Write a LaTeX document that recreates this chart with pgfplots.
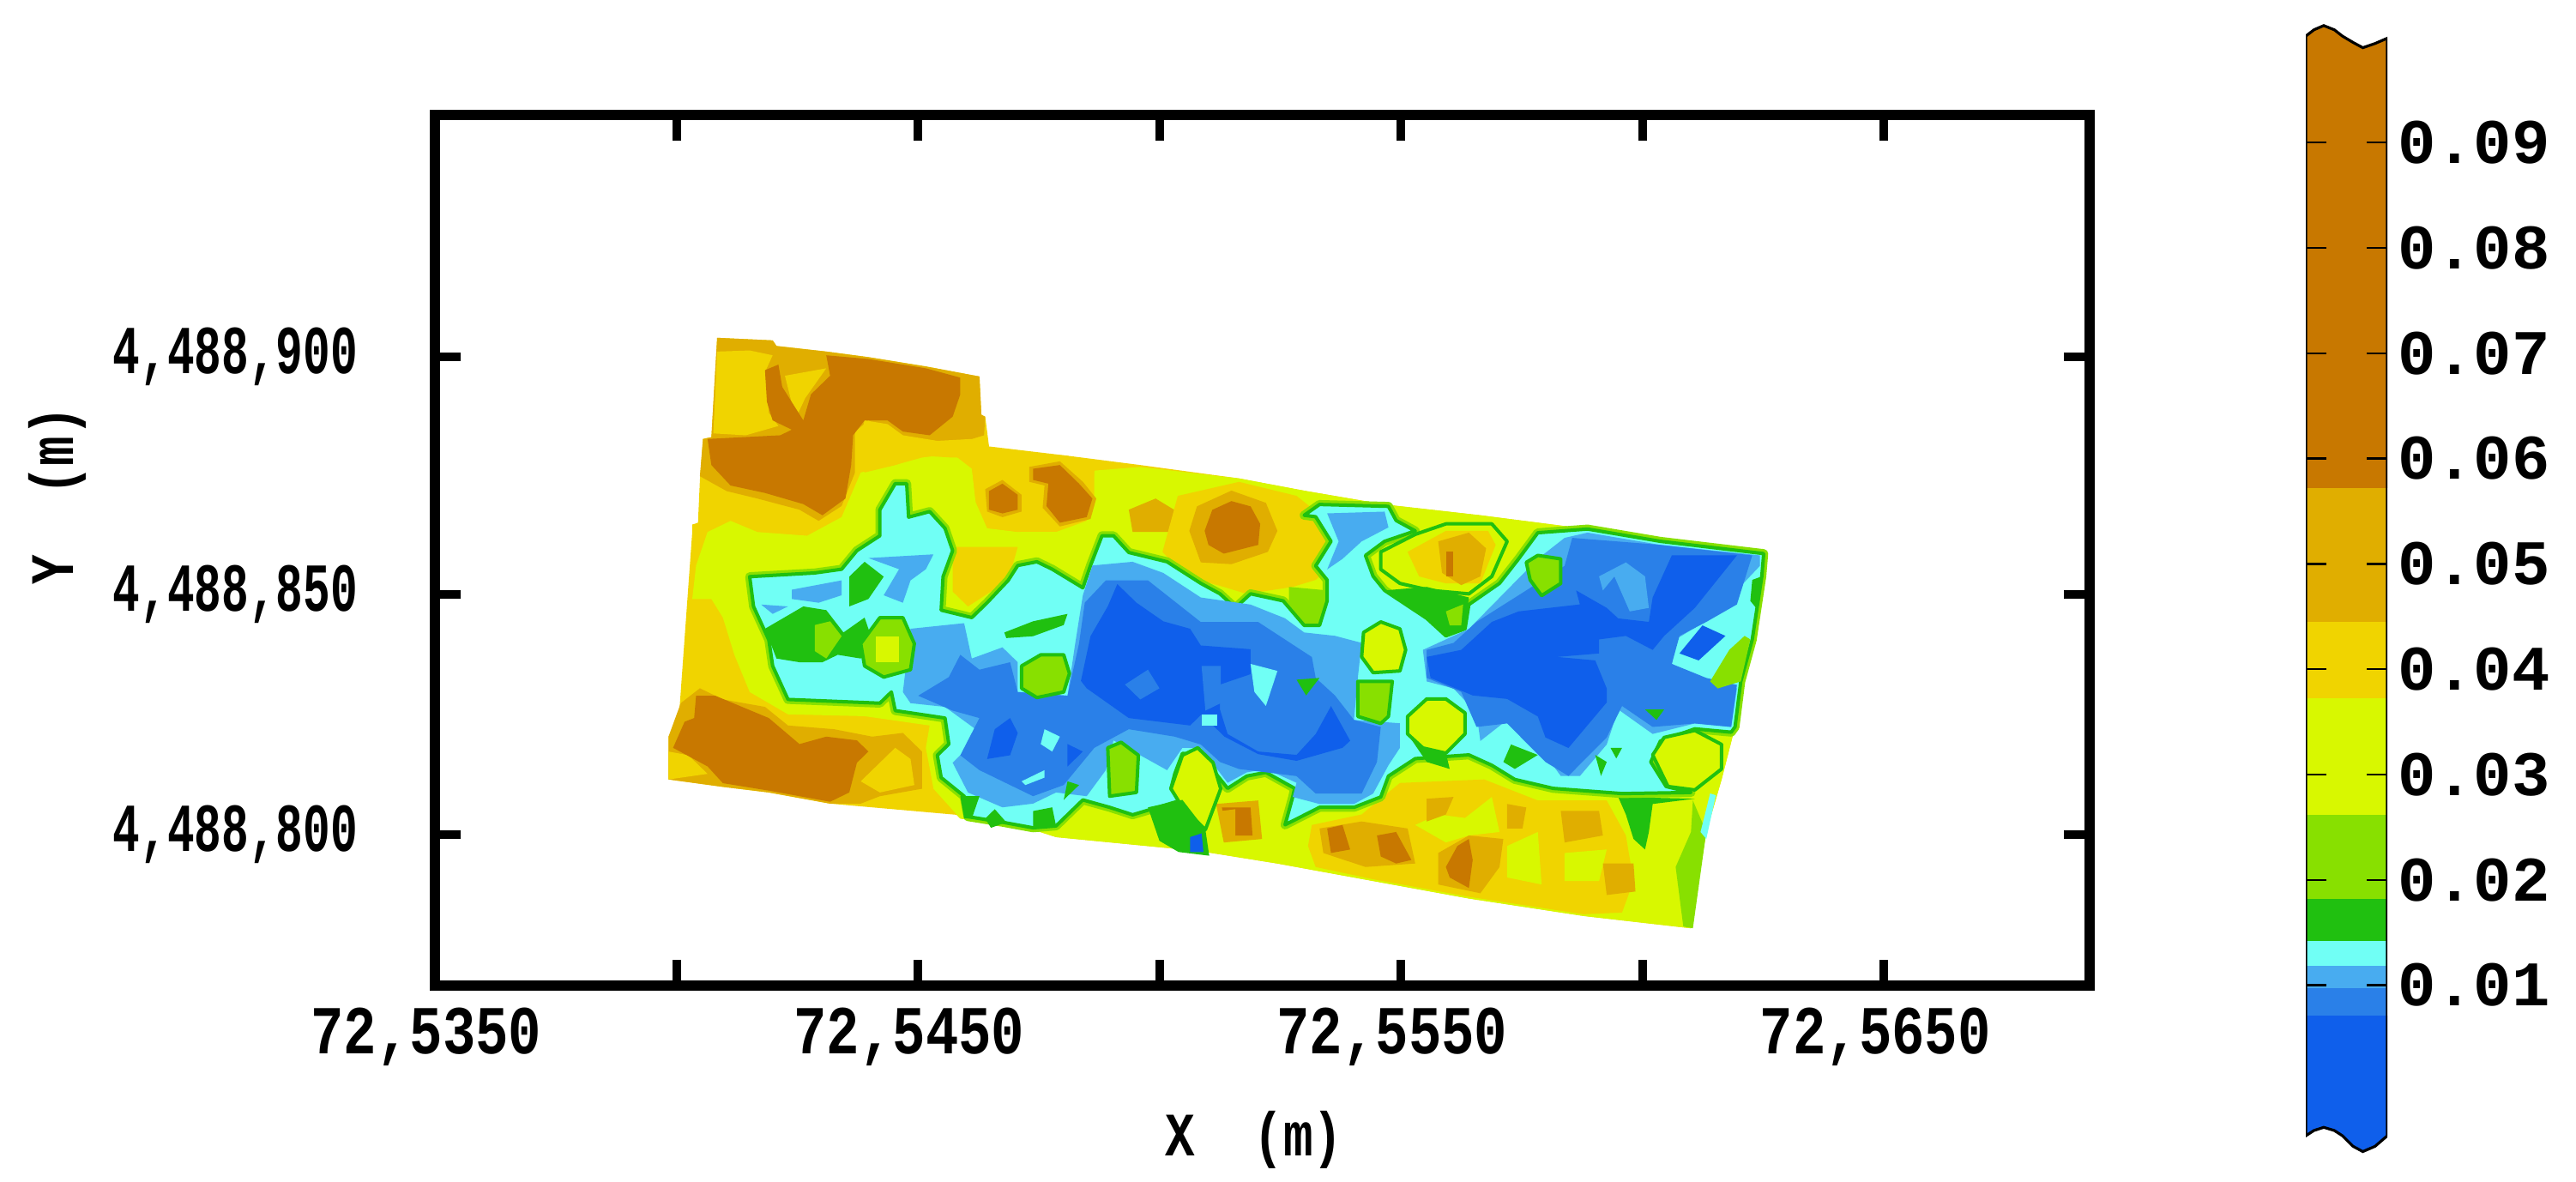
\documentclass[border=0pt]{standalone}
\usepackage{fontspec}
\setmonofont{Liberation Mono}
\usepackage{pgfplots}
\pgfplotsset{compat=1.18}
\definecolor{c0}{RGB}{15,95,235}
\definecolor{c1}{RGB}{42,128,232}
\definecolor{c2}{RGB}{72,172,240}
\definecolor{c3}{RGB}{112,255,245}
\definecolor{c4}{RGB}{32,192,16}
\definecolor{c5}{RGB}{136,224,0}
\definecolor{c6}{RGB}{216,248,0}
\definecolor{c7}{RGB}{240,212,0}
\definecolor{c8}{RGB}{224,174,0}
\definecolor{c9}{RGB}{200,120,0}
\newcommand\sx[1]{\scalebox{.8}[1]{#1}}
\newcommand\sy[1]{\scalebox{.66}[1]{#1}}
\pgfplotsset{
  p0/.style={draw=none,fill=c0,mark=none},
  p1/.style={draw=none,fill=c1,mark=none},
  p2/.style={draw=none,fill=c2,mark=none},
  p3/.style={draw=none,fill=c3,mark=none},
  p4/.style={draw=none,fill=c4,mark=none},
  p5/.style={draw=none,fill=c5,mark=none},
  p6/.style={draw=none,fill=c6,mark=none},
  p7/.style={draw=none,fill=c7,mark=none},
  p8/.style={draw=none,fill=c8,mark=none},
  p9/.style={draw=none,fill=c9,mark=none},
  ring/.style={draw=c4,line width=1pt,line join=round,mark=none},
  % second set of traced points, shifted onto the first
  zb/.style={x filter/.expression={x+1478},y filter/.expression={277+0.941*y}},
}
\begin{document}
\begin{tikzpicture}
\path[use as bounding box] (0,0) rectangle (750.75pt,344.5pt);
\begin{axis}[
  at={(126.75pt,57.25pt)}, anchor=south west,
  scale only axis, width=482.25pt, height=253.75pt,
  y dir=reverse,
  xmin=-522, xmax=3799, ymin=-521, ymax=1819,
  axis on top,
  axis line style={line width=3pt},
  tick align=inside, major tick length=7.5pt,
  tick style={black,line width=2.5pt},
  xtick={-522,109,739,1370,2000,2631,3262},
  xticklabels={{\sx{72,5350}},{},{\sx{72,5450}},{},{\sx{72,5550}},{},{\sx{72,5650}}},
  ytick={128,768,1414},
  yticklabels={{\sy{4,488,900}},{\sy{4,488,850}},{\sy{4,488,800}}},
  tick label style={font=\fontsize{20}{20}\selectfont\bfseries\ttfamily},
  xticklabel style={yshift=-3pt,xshift=-2.5pt},
  yticklabel style={xshift=-19pt},
  xlabel={\sx{X\ \ (m)}}, ylabel={\sx{Y\ \ (m)}},
  every axis x label/.style={at={(axis description cs:0.495,0)},anchor=center,yshift=-45pt,font=\fontsize{18}{18}\selectfont\bfseries\ttfamily},
  every axis y label/.style={at={(axis description cs:-0.228,0.563)},anchor=center,rotate=90,font=\fontsize{18}{18}\selectfont\bfseries\ttfamily},
]
% field outline
\addplot[p7] coordinates {(215,78)(360,85)(370,100)(500,115)(610,130)(760,155)(900,182)(905,285)(915,290)(925,370)(1130,395)(1320,420)(1578,456)(1748,489)(1958,526)(2208,555)(2488,592)(2678,625)(2948,658)(2943,719)(2918,889)(2888,1002)(2873,1124)(2838,1265)(2798,1406)(2758,1665)(2478,1632)(2178,1585)(1928,1538)(1678,1491)(1478,1458)(1100,1420)(1040,1400)(850,1370)(840,1360)(510,1330)(350,1300)(230,1285)(88,1265)(88,1150)(115,1100)(150,600)(150,580)(165,575)(170,460)(178,350)(200,345)} -- cycle;
% lime
\addplot[p6] coordinates {(160,690)(190,600)(250,570)(320,600)(450,610)(540,560)(590,440)(680,420)(750,400)(830,390)(880,430)(890,520)(920,590)(1000,600)(1100,600)(1180,570)(1200,500)(1200,435)(1320,425)(1578,456)(1748,489)(1958,526)(2208,555)(2488,592)(2948,658)(2943,719)(2918,889)(2888,1002)(2873,1124)(2838,1265)(2798,1406)(2758,1665)(2478,1632)(2178,1585)(1928,1538)(1678,1491)(1478,1458)(1100,1420)(1040,1400)(850,1370)(780,1290)(760,1180)(770,1120)(600,1095)(400,1090)(300,1030)(260,930)(230,830)(200,780)(150,780)} -- cycle;
% top left, gold and brown
\addplot[p8] coordinates {(215,78)(360,85)(370,100)(500,115)(610,130)(760,155)(900,182)(905,285)(915,290)(912,340)(880,350)(770,360)(680,340)(610,300)(575,330)(575,440)(540,530)(480,570)(430,540)(320,510)(240,490)(170,450)(178,350)(200,345)} -- cycle;
\addplot[p7] coordinates {(215,115)(300,112)(360,125)(340,170)(350,280)(375,315)(290,340)(205,335)} -- cycle;
\addplot[p7] coordinates {(392,180)(500,160)(445,240)(420,295)} -- cycle;
\addplot[p7] coordinates {(600,300)(660,310)(700,340)(790,355)(880,350)(885,400)(830,400)(750,395)(680,420)(600,440)(580,380)} -- cycle;
\addplot[p9] coordinates {(500,125)(610,135)(760,160)(850,185)(850,230)(830,290)(770,340)(700,330)(660,300)(600,300)(570,340)(565,420)(550,510)(490,555)(440,525)(340,495)(250,475)(200,420)(190,350)(380,340)(410,325)(360,300)(345,250)(340,165)(375,150)(385,210)(440,300)(460,230)(510,180)} -- cycle;
% top strip
\addplot[p7] coordinates {(890,375)(1130,395)(1200,430)(1190,560)(1120,590)(1000,600)(920,580)(890,510)(880,420)} -- cycle;
\addplot[p7] coordinates {(830,640)(950,640)(1000,640)(975,730)(900,780)(870,800)(830,760)} -- cycle;
\addplot[p8] coordinates {(1290,540)(1360,510)(1440,560)(1400,600)(1300,600)} -- cycle;
\addplot[p8] coordinates {(915,485)(960,460)(1010,500)(1010,545)(960,560)(920,545)} -- cycle;
\addplot[p8] coordinates {(1030,425)(1110,410)(1170,465)(1205,510)(1190,565)(1110,585)(1065,535)(1070,475)(1030,465)} -- cycle;
\addplot[p9] coordinates {(925,490)(960,470)(1000,500)(1000,540)(960,550)(925,540)} -- cycle;
\addplot[p9] coordinates {(1040,430)(1110,420)(1160,470)(1195,510)(1180,560)(1110,575)(1075,530)(1080,470)(1040,460)} -- cycle;
\addplot[p7,zb] coordinates {(-60,240)(100,200)(250,240)(330,310)(330,450)(300,480)(240,500)(120,520)(60,500)(-40,470)(-100,400)} -- cycle;
\addplot[p8,zb] coordinates {(-10,270)(80,225)(170,260)(200,340)(175,400)(80,435)(0,430)(-30,340)} -- cycle;
\addplot[p9,zb] coordinates {(10,340)(30,280)(80,255)(130,270)(155,320)(150,380)(60,405)(20,380)} -- cycle;
\addplot[p5,zb] coordinates {(230,500)(330,510)(320,600)(280,615)(230,580)} -- cycle;
% bottom left
\addplot[p8] coordinates {(88,1150)(120,1060)(170,1020)(230,1050)(340,1070)(400,1120)(520,1130)(620,1150)(700,1140)(750,1190)(750,1290)(640,1310)(590,1330)(510,1330)(350,1300)(230,1285)(88,1265)} -- cycle;
\addplot[p7] coordinates {(88,1190)(140,1200)(190,1250)(88,1265)} -- cycle;
\addplot[p7] coordinates {(590,1270)(680,1180)(720,1210)(730,1280)(640,1300)} -- cycle;
\addplot[p9] coordinates {(160,1040)(210,1040)(350,1100)(430,1170)(500,1150)(580,1160)(610,1190)(580,1220)(560,1300)(510,1325)(350,1295)(230,1275)(190,1230)(100,1180)(130,1110)(155,1100)} -- cycle;
% south band
\addplot[p7,zb] coordinates {(290,1180)(420,1150)(520,1060)(740,1050)(880,1110)(1060,1110)(1110,1210)(1130,1340)(1100,1430)(1000,1435)(700,1385)(450,1335)(300,1300)(280,1240)} -- cycle;
\addplot[p6,zb] coordinates {(800,1240)(880,1200)(890,1350)(800,1330)} -- cycle;
\addplot[p6,zb] coordinates {(560,1180)(620,1150)(690,1160)(760,1100)(780,1200)(700,1210)(640,1230)} -- cycle;
\addplot[p6,zb] coordinates {(950,1260)(1060,1250)(1040,1340)(950,1340)} -- cycle;
\addplot[p8,zb] coordinates {(310,1190)(420,1170)(540,1190)(560,1290)(430,1300)(320,1260)} -- cycle;
\addplot[p8,zb] coordinates {(620,1260)(700,1210)(790,1220)(780,1300)(730,1375)(620,1350)} -- cycle;
\addplot[p8,zb] coordinates {(940,1140)(1040,1140)(1050,1210)(950,1230)} -- cycle;
\addplot[p8,zb] coordinates {(590,1105)(660,1100)(640,1150)(590,1170)} -- cycle;
\addplot[p8,zb] coordinates {(800,1120)(850,1130)(840,1190)(800,1190)} -- cycle;
\addplot[p8,zb] coordinates {(1050,1290)(1130,1290)(1135,1370)(1060,1380)} -- cycle;
\addplot[p9,zb] coordinates {(330,1190)(370,1180)(390,1250)(340,1260)} -- cycle;
\addplot[p9,zb] coordinates {(460,1210)(510,1200)(550,1280)(510,1290)(470,1270)} -- cycle;
\addplot[p9,zb] coordinates {(670,1240)(700,1220)(710,1280)(700,1360)(650,1330)(640,1300)} -- cycle;
\addplot[p8,zb] coordinates {(40,1120)(150,1110)(160,1220)(60,1230)} -- cycle;
\addplot[p9,zb] coordinates {(55,1130)(130,1130)(135,1210)(70,1210)} -- cycle;
% lobe at the lower right
\addplot[p4,zb] coordinates {(1090,1100)(1290,1105)(1180,1120)(1170,1200)(1160,1250)(1130,1220)(1110,1150)} -- cycle;
\addplot[p5,zb] coordinates {(1285,1110)(1320,1200)(1285,1475)(1260,1470)(1240,1300)(1280,1200)} -- cycle;
\addplot[p3,zb] coordinates {(1330,1090)(1345,1095)(1320,1220)(1305,1200)} -- cycle;
% cyan mass with its green contour and its thin yellow green rim
\addplot[fill=c3,ring,preaction={draw=c5,line width=2.6pt}] coordinates {(300,720)(470,710)(540,700)(580,650)(640,610)(640,540)(680,470)(710,470)(715,560)(770,545)(810,590)(830,650)(805,720)(800,810)(880,830)(920,790)(975,730)(1000,690)(1050,680)(1090,700)(1170,750)(1190,690)(1220,610)(1250,610)(1290,655)(1390,680)(1478,738)(1528,766)(1568,804)(1608,766)(1693,785)(1748,851)(1788,851)(1808,785)(1808,729)(1778,691)(1818,625)(1778,559)(1748,555)(1788,526)(1968,531)(1988,569)(2038,597)(1958,625)(1908,663)(1928,719)(1958,757)(2068,832)(2118,879)(2168,860)(2178,795)(2258,738)(2308,672)(2358,602)(2488,592)(2678,625)(2948,658)(2943,719)(2918,889)(2888,1002)(2873,1124)(2863,1138)(2768,1129)(2678,1162)(2653,1218)(2693,1284)(2758,1300)(2578,1303)(2398,1289)(2298,1265)(2238,1227)(2178,1199)(2038,1209)(1968,1256)(1948,1312)(1878,1340)(1788,1340)(1698,1387)(1718,1312)(1723,1289)(1648,1246)(1598,1256)(1548,1289)(1478,1199)(1430,1195)(1410,1250)(1400,1290)(1430,1320)(1300,1360)(1240,1340)(1170,1320)(1100,1390)(1040,1395)(960,1380)(870,1365)(860,1310)(800,1260)(790,1200)(820,1170)(810,1100)(680,1080)(670,1030)(640,1060)(400,1050)(360,960)(350,890)(310,800)} -- cycle;
% sky blue
\addplot[p2] coordinates {(410,755)(540,730)(540,770)(480,790)(410,780)} -- cycle;
\addplot[p2] coordinates {(330,795)(400,800)(360,820)} -- cycle;
\addplot[p2] coordinates {(610,670)(780,660)(760,700)(720,730)(700,790)(650,770)(690,700)} -- cycle;
\addplot[p2] coordinates {(720,860)(860,845)(880,940)(960,910)(1000,950)(1000,1030)(1130,1040)(1150,900)(1170,770)(1195,690)(1300,680)(1380,710)(1478,776)(1608,795)(1698,832)(1748,870)(1828,879)(1898,898)(1888,992)(1878,1105)(1998,1114)(1998,1180)(1968,1227)(1928,1303)(1878,1331)(1788,1331)(1718,1312)(1728,1274)(1648,1237)(1598,1246)(1548,1274)(1478,1180)(1430,1180)(1390,1240)(1250,1160)(1230,1240)(1180,1310)(1100,1300)(1040,1330)(960,1340)(870,1300)(830,1220)(870,1180)(890,1130)(810,1070)(720,1060)(700,1030)} -- cycle;
\addplot[p2,zb] coordinates {(330,290)(480,285)(490,330)(420,370)(370,420)(330,450)(360,370)} -- cycle;
\addplot[p2,zb] coordinates {(700,620)(790,520)(880,420)(950,360)(1010,345)(1200,380)(1460,410)(1460,440)(1330,590)(1240,650)(1230,720)(1320,770)(1400,790)(1385,900)(1290,890)(1180,920)(1090,850)(1060,950)(990,1040)(940,1040)(880,950)(800,880)(730,940)(720,860)(660,790)(590,770)(580,680)} -- cycle;
% mid blue
\addplot[p1] coordinates {(740,1040)(820,990)(850,930)(900,970)(980,950)(1000,1030)(1130,1040)(1160,900)(1175,790)(1230,730)(1340,730)(1478,842)(1628,842)(1768,936)(1778,992)(1828,1039)(1878,1105)(1948,1124)(1938,1218)(1898,1303)(1778,1303)(1728,1256)(1578,1237)(1528,1218)(1478,1171)(1410,1150)(1290,1130)(1200,1180)(1120,1280)(1040,1310)(900,1240)(850,1200)(900,1100)(830,1080)} -- cycle;
\addplot[p1,zb] coordinates {(850,510)(950,440)(970,360)(1200,380)(1440,410)(1400,550)(1320,600)(1250,640)(1230,720)(1320,760)(1400,780)(1385,900)(1290,890)(1180,900)(1100,840)(1060,930)(960,1040)(900,1000)(800,890)(720,900)(680,800)(590,760)(590,680)(660,660)(720,600)} -- cycle;
% deep blue
\addplot[p0] coordinates {(1165,1000)(1190,880)(1235,800)(1260,740)(1310,790)(1380,840)(1450,860)(1478,905)(1608,915)(1608,982)(1528,1010)(1528,1077)(1548,1143)(1628,1190)(1728,1199)(1778,1143)(1818,1068)(1838,1105)(1868,1161)(1848,1180)(1728,1215)(1628,1197)(1540,1150)(1480,1090)(1450,1120)(1290,1100)(1180,1020)} -- cycle;
\addplot[p1] coordinates {(1280,1010)(1340,970)(1370,1020)(1320,1050)} -- cycle;
\addplot[p1] coordinates {(1480,960)(1530,960)(1530,1060)(1490,1080)} -- cycle;
\addplot[p0] coordinates {(920,1210)(940,1130)(980,1100)(1000,1140)(980,1200)} -- cycle;
\addplot[p0] coordinates {(1130,1170)(1170,1190)(1130,1230)} -- cycle;
\addplot[p0,zb] coordinates {(590,700)(680,680)(760,600)(830,570)(990,550)(980,510)(1060,560)(1090,590)(1170,600)(1180,530)(1230,410)(1400,410)(1290,560)(1210,640)(1180,680)(1110,640)(1040,650)(1040,690)(930,700)(1030,710)(1060,790)(1060,830)(960,960)(900,930)(880,870)(800,820)(710,810)(600,760)} -- cycle;
\addplot[p0,zb] coordinates {(1250,690)(1310,610)(1370,640)(1300,710)} -- cycle;
\addplot[p2,zb] coordinates {(1040,470)(1110,430)(1160,470)(1170,560)(1120,570)(1080,470)(1050,510)} -- cycle;
% cyan specks
\addplot[p3] coordinates {(1070,1130)(1110,1150)(1090,1190)(1060,1170)} -- cycle;
\addplot[p3] coordinates {(1010,1270)(1070,1240)(1070,1260)(1020,1280)} -- cycle;
\addplot[p3] coordinates {(1480,1090)(1520,1090)(1520,1120)(1480,1120)} -- cycle;
\addplot[p3,zb] coordinates {(130,720)(200,740)(170,840)(140,800)} -- cycle;
% green islands
\addplot[p4] coordinates {(340,860)(440,800)(500,810)(545,870)(600,830)(620,890)(590,940)(530,930)(490,950)(430,950)(370,940)} -- cycle;
\addplot[p5] coordinates {(470,850)(510,840)(540,880)(500,940)(470,920)} -- cycle;
\addplot[p4] coordinates {(560,720)(600,680)(650,720)(610,780)(560,800)} -- cycle;
\addplot[p4] coordinates {(965,870)(1040,840)(1130,820)(1120,850)(1040,880)(970,885)} -- cycle;
\addplot[fill=c5,ring] coordinates {(590,900)(640,830)(700,830)(730,900)(720,970)(650,990)(600,960)} -- cycle;
\addplot[p6] coordinates {(630,880)(690,880)(690,950)(630,950)} -- cycle;
\addplot[fill=c5,ring] coordinates {(1010,960)(1060,930)(1120,930)(1135,980)(1120,1030)(1050,1045)(1010,1020)} -- cycle;
\addplot[fill=c5,ring] coordinates {(1235,1180)(1270,1165)(1315,1200)(1310,1300)(1240,1310)} -- cycle;
\addplot[p4] coordinates {(1130,1270)(1160,1280)(1120,1320)} -- cycle;
\addplot[p4] coordinates {(850,1310)(900,1310)(880,1370)(860,1370)} -- cycle;
\addplot[p4] coordinates {(915,1370)(940,1345)(970,1380)(930,1395)} -- cycle;
\addplot[p4] coordinates {(1040,1350)(1090,1340)(1100,1390)(1040,1395)} -- cycle;
\addplot[fill=c6,ring] coordinates {(1400,1290)(1430,1200)(1470,1180)(1510,1220)(1530,1290)(1490,1400)(1430,1340)} -- cycle;
\addplot[p4] coordinates {(1340,1340)(1430,1320)(1490,1400)(1500,1470)(1420,1460)(1370,1430)} -- cycle;
\addplot[p0] coordinates {(1450,1420)(1480,1410)(1485,1460)(1450,1460)} -- cycle;
\addplot[p8] coordinates {(1530,1350)(1568,1345)(1568,1420)(1535,1420)} -- cycle;
\addplot[fill=c6,ring,zb] coordinates {(425,630)(470,600)(520,620)(535,680)(520,740)(450,745)(420,700)} -- cycle;
\addplot[fill=c5,ring,zb] coordinates {(410,770)(500,770)(490,870)(470,890)(410,870)} -- cycle;
\addplot[fill=c6,ring,zb] coordinates {(540,870)(590,820)(640,820)(690,860)(690,920)(640,975)(580,960)(540,920)} -- cycle;
\addplot[p4,zb] coordinates {(540,920)(580,960)(640,975)(650,1020)(590,1000)} -- cycle;
\addplot[p4,zb] coordinates {(810,950)(880,980)(820,1020)(790,1000)} -- cycle;
\addplot[p4,zb] coordinates {(1030,980)(1060,1000)(1045,1040)} -- cycle;
\addplot[p4,zb] coordinates {(1070,960)(1100,960)(1085,990)} -- cycle;
\addplot[p4,zb] coordinates {(1160,850)(1210,850)(1190,880)} -- cycle;
\addplot[p4,zb] coordinates {(250,765)(310,760)(275,810)} -- cycle;
\addplot[fill=c6,ring,zb] coordinates {(1180,980)(1210,930)(1290,910)(1360,950)(1360,1020)(1290,1080)(1220,1070)} -- cycle;
\addplot[fill=c5,ring,zb] coordinates {(850,430)(880,410)(940,420)(940,490)(890,525)(860,480)} -- cycle;
\addplot[p5,zb] coordinates {(1330,770)(1380,680)(1420,640)(1435,650)(1410,770)(1350,790)} -- cycle;
\addplot[p4,zb] coordinates {(1440,480)(1465,470)(1450,560)(1435,540)} -- cycle;
% blob on the top edge
\addplot[fill=c6,ring,zb] coordinates {(470,400)(560,350)(640,320)(760,320)(800,370)(760,470)(700,520)(600,510)(520,490)(470,450)} -- cycle;
\addplot[p7,zb] coordinates {(540,400)(640,340)(750,340)(770,380)(730,490)(640,490)(570,470)} -- cycle;
\addplot[p8,zb] coordinates {(620,370)(700,345)(745,390)(730,470)(680,495)(630,460)} -- cycle;
\addplot[p9,zb] coordinates {(640,400)(660,400)(660,470)(640,470)} -- cycle;
\addplot[p4,zb] coordinates {(480,510)(590,500)(700,530)(690,620)(640,640)(590,590)} -- cycle;
\addplot[p5,zb] coordinates {(640,570)(685,550)(680,610)(650,610)} -- cycle;
\end{axis}
\begin{axis}[
  at={(672pt,8.25pt)}, anchor=south west,
  scale only axis, width=23.75pt, height=329.4pt,
  xmin=0, xmax=1, ymin=-0.006, ymax=0.1013,
  axis on top,
  axis line style={draw=none},
  xtick=\empty,
  ytick={0.01,0.02,0.03,0.04,0.05,0.06,0.07,0.08,0.09},
  yticklabels={0.01,0.02,0.03,0.04,0.05,0.06,0.07,0.08,0.09},
  yticklabel pos=right,
  tick align=inside, major tick length=6pt,
  tick style={black,line width=.6pt},
  tick label style={font=\fontsize{18.5}{18.5}\selectfont\bfseries\ttfamily},
  yticklabel style={xshift=-.5pt},
]
\addplot[p0] coordinates {(0,-0.0043)(0.1,-0.0038)(0.22,-0.0035)(0.35,-0.0038)(0.45,-0.0043)(0.58,-0.0053)(0.7,-0.0058)(0.85,-0.0053)(1,-0.0043)(1,0.0071)(0,0.0071)} -- cycle;
\addplot[p1] coordinates {(0,0.0071)(1,0.0071)(1,0.0097)(0,0.0097)} -- cycle;
\addplot[p2] coordinates {(0,0.0097)(1,0.0097)(1,0.0118)(0,0.0118)} -- cycle;
\addplot[p3] coordinates {(0,0.0118)(1,0.0118)(1,0.0142)(0,0.0142)} -- cycle;
\addplot[p4] coordinates {(0,0.0142)(1,0.0142)(1,0.0182)(0,0.0182)} -- cycle;
\addplot[p5] coordinates {(0,0.0182)(1,0.0182)(1,0.0262)(0,0.0262)} -- cycle;
\addplot[p6] coordinates {(0,0.0262)(1,0.0262)(1,0.0372)(0,0.0372)} -- cycle;
\addplot[p7] coordinates {(0,0.0372)(1,0.0372)(1,0.0445)(0,0.0445)} -- cycle;
\addplot[p8] coordinates {(0,0.0445)(1,0.0445)(1,0.0572)(0,0.0572)} -- cycle;
\addplot[p9] coordinates {(0,0.0572)(1,0.0572)(1,0.0999)(0.85,0.0994)(0.7,0.0990)(0.58,0.0995)(0.45,0.1001)(0.35,0.1007)(0.22,0.1011)(0.1,0.1007)(0,0.1001)} -- cycle;
\addplot[black,line width=.8pt,mark=none] coordinates {(0,-0.0043)(0.1,-0.0038)(0.22,-0.0035)(0.35,-0.0038)(0.45,-0.0043)(0.58,-0.0053)(0.7,-0.0058)(0.85,-0.0053)(1,-0.0043)(1,0.0999)(0.85,0.0994)(0.7,0.0990)(0.58,0.0995)(0.45,0.1001)(0.35,0.1007)(0.22,0.1011)(0.1,0.1007)(0,0.1001)} -- cycle;
\end{axis}
\end{tikzpicture}
\end{document}
